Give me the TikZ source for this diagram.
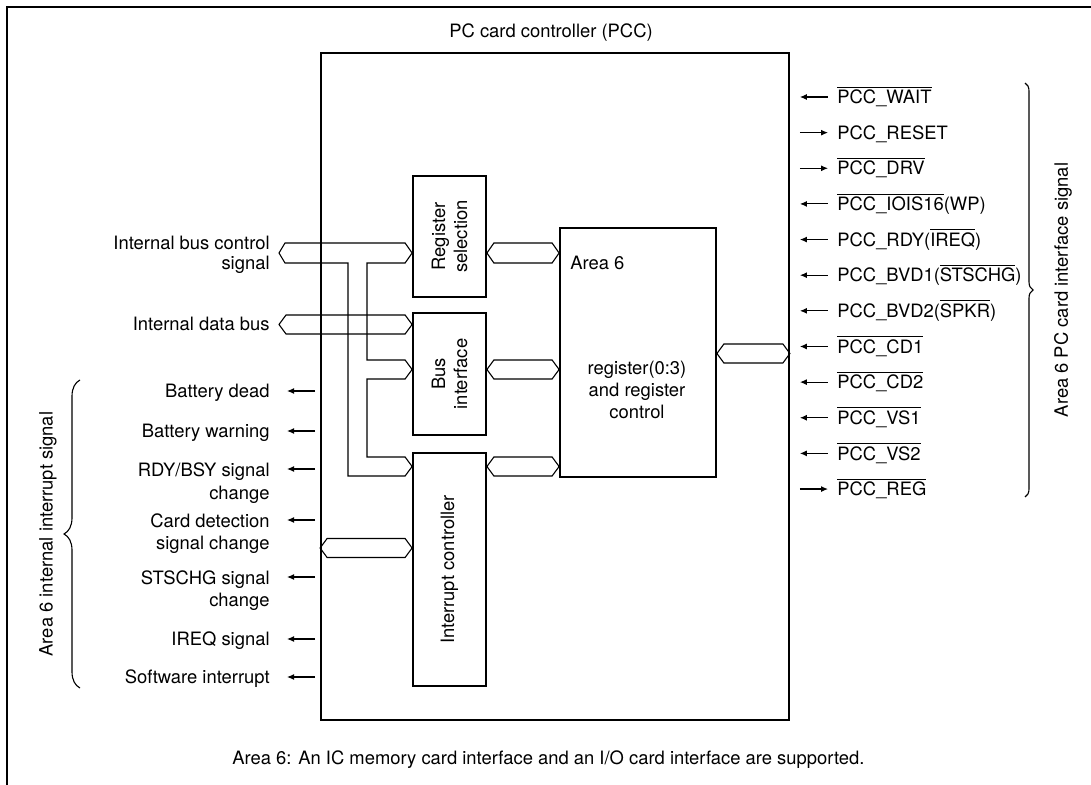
\documentclass[tikz,border=0pt]{standalone}
\usepackage{fontspec}
\setmainfont{TeX Gyre Heros}
\usetikzlibrary{arrows.meta,calc,fit,decorations.pathreplacing}
\tikzset{blk/.style={draw,line width=0.9pt,inner sep=0pt}, lbl/.style={font=\fontsize{9.2}{11}\selectfont,inner sep=0pt}, busline/.style={line width=0.55pt}, tochip/.style={{Latex[length=3.5pt,width=3pt]}-,line width=0.55pt}, fromchip/.style={-{Latex[length=3.5pt,width=3pt]},line width=0.55pt}, brc/.style={decorate,decoration={brace,amplitude=#1},line width=0.55pt}}
\newcommand{\ovl}[1]{$\overline{\mbox{#1}}$}
\newcommand{\bus}[3]{\draw[busline] (#1) -- ++(7,-#3) -- ($(#2)+(-7,-#3)$) -- (#2) -- ($(#2)+(-7,#3)$) -- ($(#1)+(7,#3)$) -- cycle;}

\begin{document}
\begin{tikzpicture}[x=0.5pt,y=-0.5pt]
\useasboundingbox (0,0) rectangle (1091,785);
\draw[line width=1.1pt] (7,785) -- (7,7) -- (1091,7);
% blocks
\node[blk,fit={(321,53) (789,720)}] (pcc) {};
\node[blk,fit={(413,176) (486,297)}] (regsel) {};
\node[blk,fit={(413,313) (486,435)}] (busif) {};
\node[blk,fit={(413,453) (486,686)}] (intc) {};
\node[blk,fit={(560,228) (716,477)}] (area6) {};
\node[lbl,rotate=90,align=center] (regselt) at (regsel.center) {Register\\selection};
\node[lbl,rotate=90,align=center] (busift) at (busif.center) {Bus\\interface};
\node[lbl,rotate=90] (intct) at (intc.center) {Interrupt controller};
\node[lbl,anchor=west] (a6t) at (570,263) {Area 6};
\node[lbl,align=center] (regt) at (637,390) {register(0:3)\\and register\\control};
\node[lbl] (ttl) at (551,33) {PC card controller (PCC)};
\node[lbl,anchor=west] (cap) at (232,760) {Area 6: An IC memory card interface and an I/O card interface are supported.};
% bus levels
\coordinate (ctrl) at (0,253); \coordinate (dat) at (0,324.5); \coordinate (bif) at (0,369.5);
\coordinate (irq) at (0,466.5); \coordinate (ext) at (0,353.5); \coordinate (inp) at (0,548);
\node[lbl,anchor=base east,align=right] (ctrlt) at (270,270) {Internal bus control\\[-1pt]signal};
\node[lbl,anchor=base east] (datt) at (270,331) {Internal data bus};
\draw[busline] (279,253) -- (285,243) -- ($(regsel.west|-ctrl)+(-7,-10)$) -- (regsel.west|-ctrl) -- ++(-7,10) -- (367,263) -- (367,360) -- ($(busif.west|-bif)+(-7,-9.5)$) -- (busif.west|-bif) -- ++(-7,9.5) -- (367,379) -- (367,457) -- ($(intc.west|-irq)+(-7,-9.5)$) -- (intc.west|-irq) -- ++(-7,9.5) -- (348,476) -- (348,263) -- (285,263) -- cycle;
\bus{279,324.5}{busif.west|-dat}{9.5}
\bus{regsel.east|-ctrl}{area6.west|-ctrl}{10}
\bus{busif.east|-bif}{area6.west|-bif}{9.5}
\bus{intc.east|-irq}{area6.west|-irq}{9.5}
\bus{area6.east|-ext}{pcc.east|-ext}{9.5}
\bus{pcc.west|-inp}{intc.west|-inp}{9.5}
% card side signals
\foreach \txt/\io [count=\i] in {{\ovl{PCC\_WAIT}}/tochip, {PCC\_RESET}/fromchip, {\ovl{PCC\_DRV}}/fromchip, {\ovl{PCC\_IOIS16}(WP)}/tochip, {PCC\_RDY(\ovl{IREQ})}/tochip, {PCC\_BVD1(\ovl{STSCHG})}/tochip, {PCC\_BVD2(\ovl{SPKR})}/tochip, {\ovl{PCC\_CD1}}/tochip, {\ovl{PCC\_CD2}}/tochip, {\ovl{PCC\_VS1}}/tochip, {\ovl{PCC\_VS2}}/tochip, {\ovl{PCC\_REG}}/fromchip}{
  \pgfmathsetmacro\yy{97+35.64*(\i-1)}
  \coordinate (ra\i) at (0,\yy);
  \node[lbl,anchor=base west] (r\i) at (837,\yy+6.6) {\txt};
  \draw[\io,shorten <=5pt,shorten >=4.5pt] (pcc.east|-ra\i) -- (r\i.west|-ra\i);
}
% interrupt signals (\by = base of last line)
\foreach \txt/\yy/\by [count=\i] in {{Battery dead}/391/397.6, {Battery warning}/431/437.6, {RDY/BSY signal\\[1pt]change}/469/500, {Card detection\\signal change}/520/549, {STSCHG signal\\change}/577/606, {IREQ signal}/639/645.6, {Software interrupt}/677/683.6}{
  \coordinate (la\i) at (0,\yy);
  \node[lbl,anchor=base east,align=right] (l\i) at (270,\by) {\txt};
  \draw[fromchip,shorten <=2.5pt,shorten >=8.5pt] (pcc.west|-la\i) -- (l\i.east|-la\i);
}
% braces
\draw[brc=4pt] (1025,83) -- (1025,497);
\node[lbl,rotate=90] (cardt) at (1063,290) {Area 6 PC card interface signal};
\draw[brc=8pt] (80,688) -- (80,380);
\node[lbl,rotate=90] (irqt) at (48,534) {Area 6 internal interrupt signal};
\end{tikzpicture}
\end{document}
